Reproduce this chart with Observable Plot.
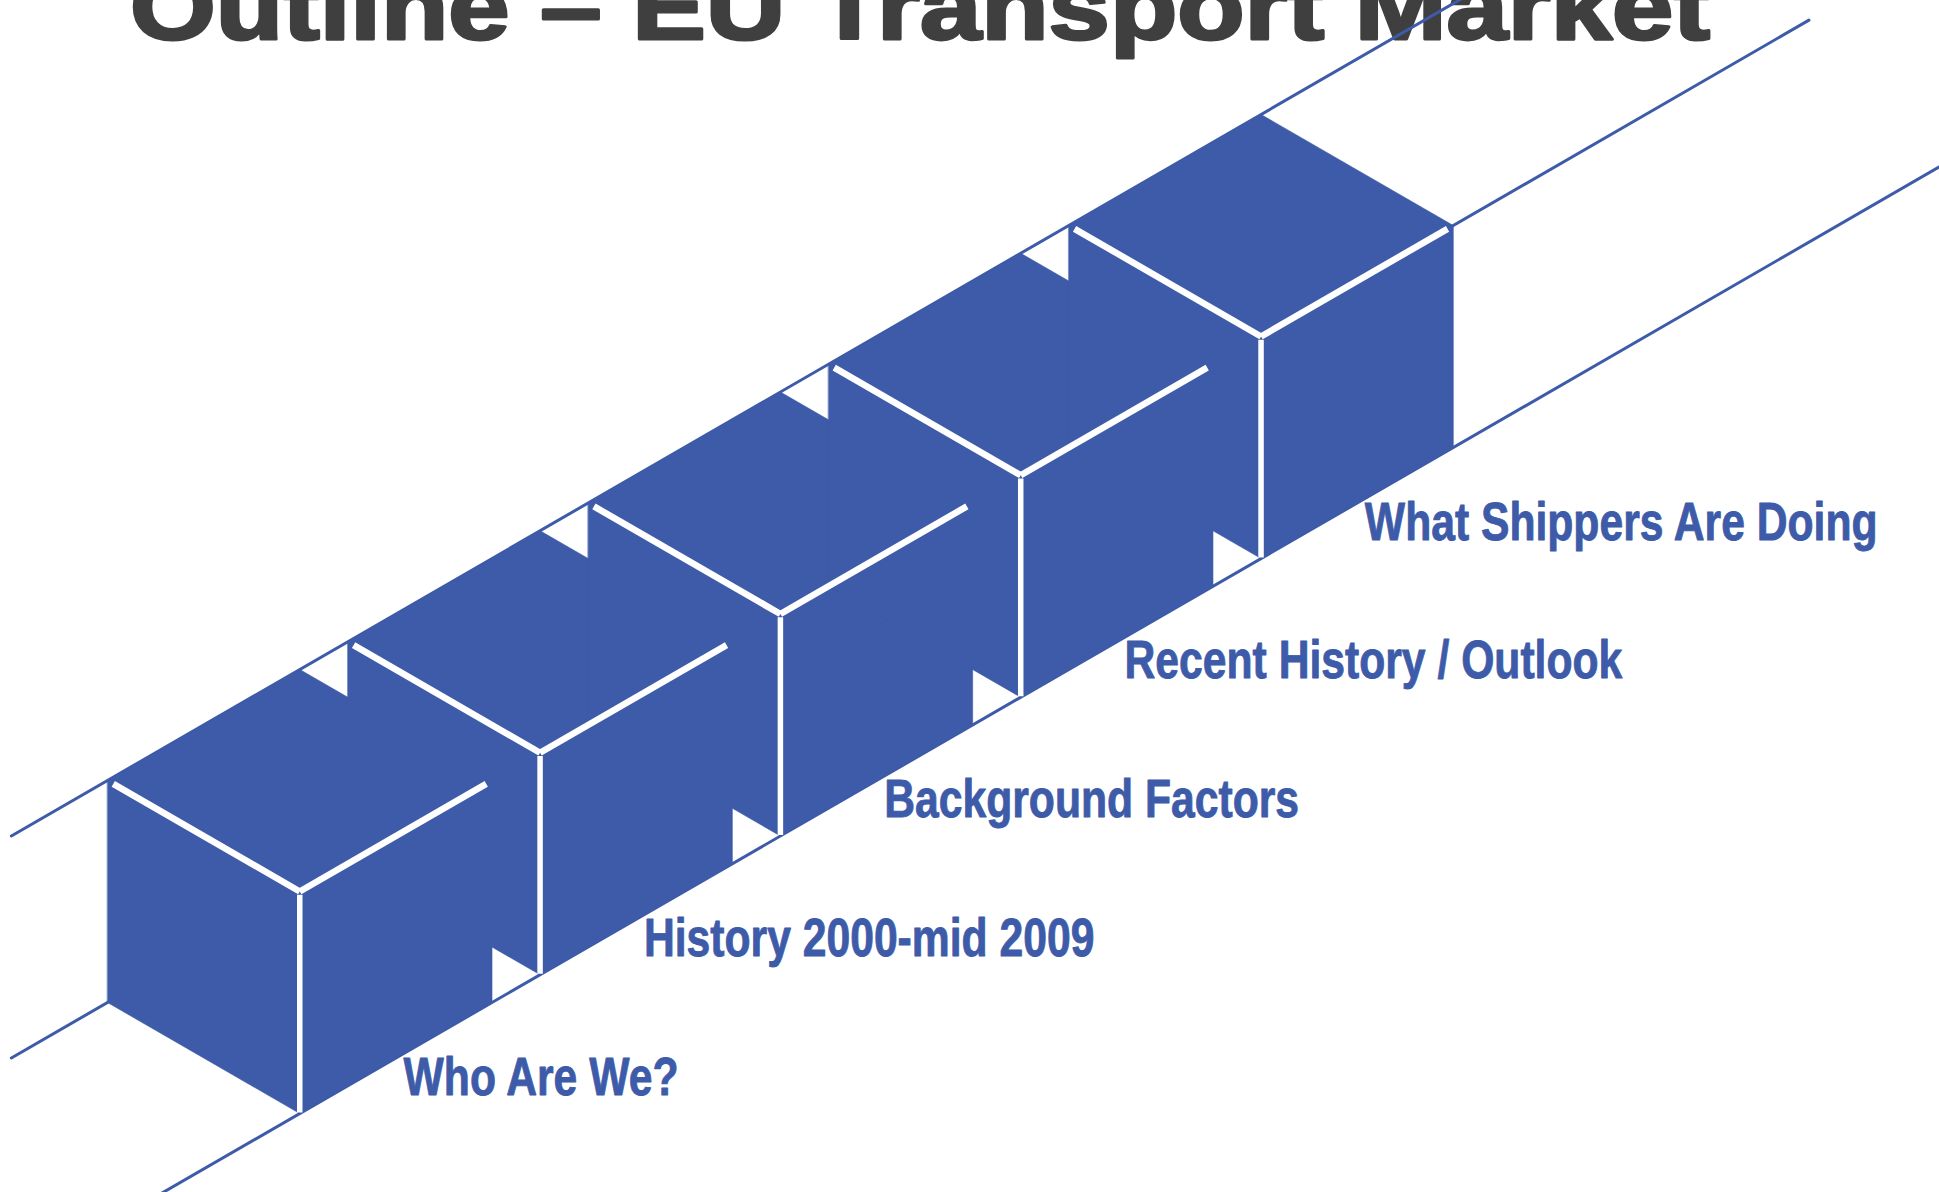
<!DOCTYPE html>
<html>
<head>
<meta charset="utf-8">
<script src="https://cdn.jsdelivr.net/npm/d3@7"></script>
<script src="https://cdn.jsdelivr.net/npm/@observablehq/plot@0.6"></script>
<style>
html, body { margin: 0; padding: 0; background: #ffffff; overflow: hidden; }
#chart svg { display: block; }
</style>
</head>
<body>
<div id="chart"></div>
<script>
// ---- content ----
const title = "Outline – EU Transport Market";
const topics = [
  "Who Are We?",
  "History 2000-mid 2009",
  "Background Factors",
  "Recent History / Outlook",
  "What Shippers Are Doing"
];
const slots = [0, 1, 2, 3, 4]; // position of each topic's block along the track

// ---- isometric model (cube edge = 1 unit) ----
const BLUE = "#3d5ba8";
const STEP = 1.25;           // cube + gap along the track
const C30 = Math.sqrt(3) / 2;
const px = p => (p.u + p.v) * C30;
const py = p => (p.u - p.v) / 2 + p.h;

// three rails running along the track
const rails = [
  {id: "upper", v: 0, h: 1, from: -0.5, to: 10},
  {id: "middle", v: 0, h: 0, from: -0.5, to: 8.85},
  {id: "lower", v: 1, h: 0, from: -0.75, to: 9.5}
];
const railPts = rails.flatMap(r => [
  {id: r.id, u: r.from, v: r.v, h: r.h},
  {id: r.id, u: r.to, v: r.v, h: r.h}
]);

// unit-cube silhouette (hexagon) corners, in (du, v, h)
const hexCorners = [[0,0,1],[1,0,1],[1,1,1],[1,1,0],[0,1,0],[0,0,0]];
const blocks = slots.map(s => ({s, u0: s * STEP}));
const hexPts = blocks.flatMap(b => hexCorners.map(([du, v, h]) => ({s: b.s, u: b.u0 + du, v, h})));

// visible front edges (white "Y")
const E = 0.03;
const topEdges = blocks.flatMap(b => {
  const F = {u: b.u0, v: 1, h: 1};
  return [
    {a: {u: b.u0, v: E, h: 1}, b: F},
    {a: {u: b.u0 + 1 - E, v: 1, h: 1}, b: F}
  ];
});
const frontEdges = blocks.map(b => ({a: {u: b.u0, v: 1, h: 0.985}, b: {u: b.u0, v: 1, h: 0.004}}));

// label anchor on the lower rail, in front of each block
const labelAt = i => ({u: slots[i] * STEP + 0.54, v: 1, h: 0});

const W = 1939, H = 1192, L = 222, X0 = 107, Y0 = 1002;

const svg = Plot.plot({
  width: W,
  height: H,
  margin: 0,
  x: {domain: [-X0 / L, (W - X0) / L], axis: null},
  y: {domain: [(Y0 - H) / L, Y0 / L], axis: null},
  style: {background: "transparent"},
  marks: [
    Plot.line(railPts, {x: px, y: py, z: "id", stroke: BLUE, strokeWidth: 3}),
    Plot.line(hexPts, {x: px, y: py, z: "s", fill: BLUE, stroke: BLUE, strokeWidth: 0.6, curve: "linear-closed"}),
    Plot.link(topEdges, {
      x1: d => px(d.a), y1: d => py(d.a),
      x2: d => px(d.b), y2: d => py(d.b),
      stroke: "white", strokeWidth: 6.5, strokeLinecap: "butt"
    }),
    Plot.link(frontEdges, {
      x1: d => px(d.a), y1: d => py(d.a),
      x2: d => px(d.b), y2: d => py(d.b),
      stroke: "white", strokeWidth: 5.5, strokeLinecap: "butt"
    }),
    Plot.text(topics, {
      x: (d, i) => px(labelAt(i)),
      y: (d, i) => py(labelAt(i)),
      text: d => d,
      textAnchor: "start",
      lineAnchor: "bottom",
      dy: 41,
      fill: BLUE,
      stroke: BLUE,
      strokeWidth: 0.9,
      fontSize: 54,
      fontWeight: "bold",
      fontFamily: "'Liberation Sans', Arial, sans-serif",
      className: "topic"
    })
  ]
});

// narrow (condensed) rendering of the topic labels
svg.querySelectorAll(".topic text").forEach(el => {
  const tr = el.getAttribute("transform") || "";
  el.setAttribute("transform", tr + " scale(0.79,1)");
});

// title (drawn beneath the marks, partly cut by the top edge)
const t = document.createElementNS("http://www.w3.org/2000/svg", "text");
t.setAttribute("x", 130);
t.setAttribute("y", 39);
t.setAttribute("textLength", 1580);
t.setAttribute("lengthAdjust", "spacingAndGlyphs");
t.style.textAnchor = "start";
t.style.fontFamily = "'Liberation Sans', Arial, sans-serif";
t.style.fontWeight = "900";
t.style.fontSize = "92px";
t.style.fill = "#3f3f3f";
t.style.stroke = "#3f3f3f";
t.style.strokeWidth = "3px";
t.style.strokeLinejoin = "round";
t.textContent = title;
const firstMark = svg.querySelector("g");
svg.insertBefore(t, firstMark);

document.getElementById("chart").appendChild(svg);
</script>
</body>
</html>
